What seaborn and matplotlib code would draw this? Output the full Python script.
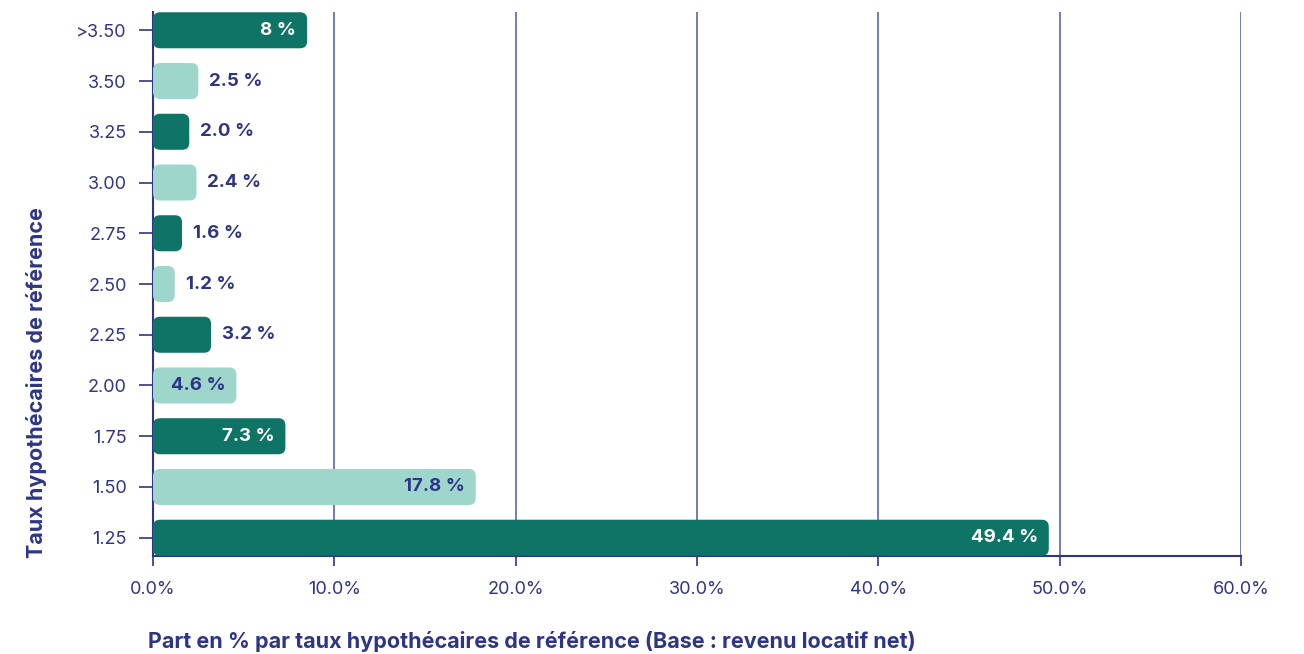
from matplotlib import pyplot as plt
from matplotlib.patches import FancyBboxPatch
from matplotlib.ticker import FuncFormatter
import pandas as pd
import seaborn as sns

# data
rates = [">3.50", "3.50", "3.25", "3.00", "2.75", "2.50", "2.25", "2.00", "1.75", "1.50", "1.25"]
shares = [8.5, 2.5, 2.0, 2.4, 1.6, 1.2, 3.2, 4.6, 7.3, 17.8, 49.4]
share_labels = ["8 %", "2.5 %", "2.0 %", "2.4 %", "1.6 %", "1.2 %", "3.2 %", "4.6 %", "7.3 %", "17.8 %", "49.4 %"]
shade = ["dark", "light", "dark", "light", "dark", "light", "dark", "light", "dark", "light", "dark"]

df = pd.DataFrame({"rate": rates, "share": shares, "shade": shade})

navy = "#2e3586"
grid_c = "#5c63a8"
colors = {"dark": "#0e7466", "light": "#9fd6cc"}

sns.set_style("white")
plt.rcParams["font.family"] = ["Inter", "DejaVu Sans"]

fig = plt.figure(figsize=(13.04, 6.54), dpi=100)
ax = fig.add_axes([153 / 1304, 1 - 556 / 654, 1088 / 1304, 544 / 654])

sns.barplot(data=df, x="share", y="rate", hue="shade", palette=colors,
            orient="h", width=0.71, dodge=False, legend=False,
            saturation=1, ax=ax)

ax.set_xlim(0, 60)
ax.set_ylim(10.36, -0.36)

# swap plain bars for rounded ones
px_x = 1088 / 60
px_y = 544 / 10.72
r = 7 / px_x
for p in list(ax.patches):
    w = p.get_width()
    if w <= 0:
        p.remove()
        continue
    x0, y0, h = p.get_x(), p.get_y(), p.get_height()
    fb = FancyBboxPatch((x0, y0), w, h,
                        boxstyle=f"round,pad=0,rounding_size={r}",
                        mutation_aspect=px_x / px_y,
                        facecolor=p.get_facecolor(), edgecolor="none", zorder=3)
    p.remove()
    ax.add_patch(fb)

# value labels
for i, (v, lab, s) in enumerate(zip(shares, share_labels, shade)):
    if v > 4:
        c = "white" if s == "dark" else navy
        ax.text(v - 0.6, i, lab, ha="right", va="center", color=c,
                fontsize=13.5, fontweight="bold", zorder=4)
    else:
        ax.text(v + 0.6, i, lab, ha="left", va="center", color=navy,
                fontsize=13.5, fontweight="bold", zorder=4)

ax.set_xticks(range(0, 61, 10))
ax.xaxis.set_major_formatter(FuncFormatter(lambda v, _: f"{v:.1f}%"))
ax.grid(axis="x", color=grid_c, linewidth=1.2, zorder=0)
ax.grid(axis="y", visible=False)
ax.set_axisbelow(True)

for side in ["top", "right"]:
    ax.spines[side].set_visible(False)
for side in ["left", "bottom"]:
    ax.spines[side].set_color(navy)
    ax.spines[side].set_linewidth(1.5)

ax.tick_params(axis="x", bottom=True, direction="out", length=7, width=1.2, color=navy,
               labelcolor=navy, labelsize=13, pad=11)
ax.tick_params(axis="y", left=True, direction="out", length=10, width=1.2, color=navy,
               labelcolor=navy, labelsize=13, pad=9)

ax.set_xlabel("")
ax.set_ylabel("")
fig.text(148 / 1304, 1 - 641 / 654, "Part en % par taux hypothécaires de référence (Base : revenu locatif net)",
         ha="left", va="center", color=navy, fontsize=15.5, fontweight="bold")
fig.text(37 / 1304, 1 - 558 / 654, "Taux hypothécaires de référence", rotation=90,
         ha="center", va="bottom", color=navy, fontsize=15.5, fontweight="bold")

fig.savefig("out.png", dpi=100)
